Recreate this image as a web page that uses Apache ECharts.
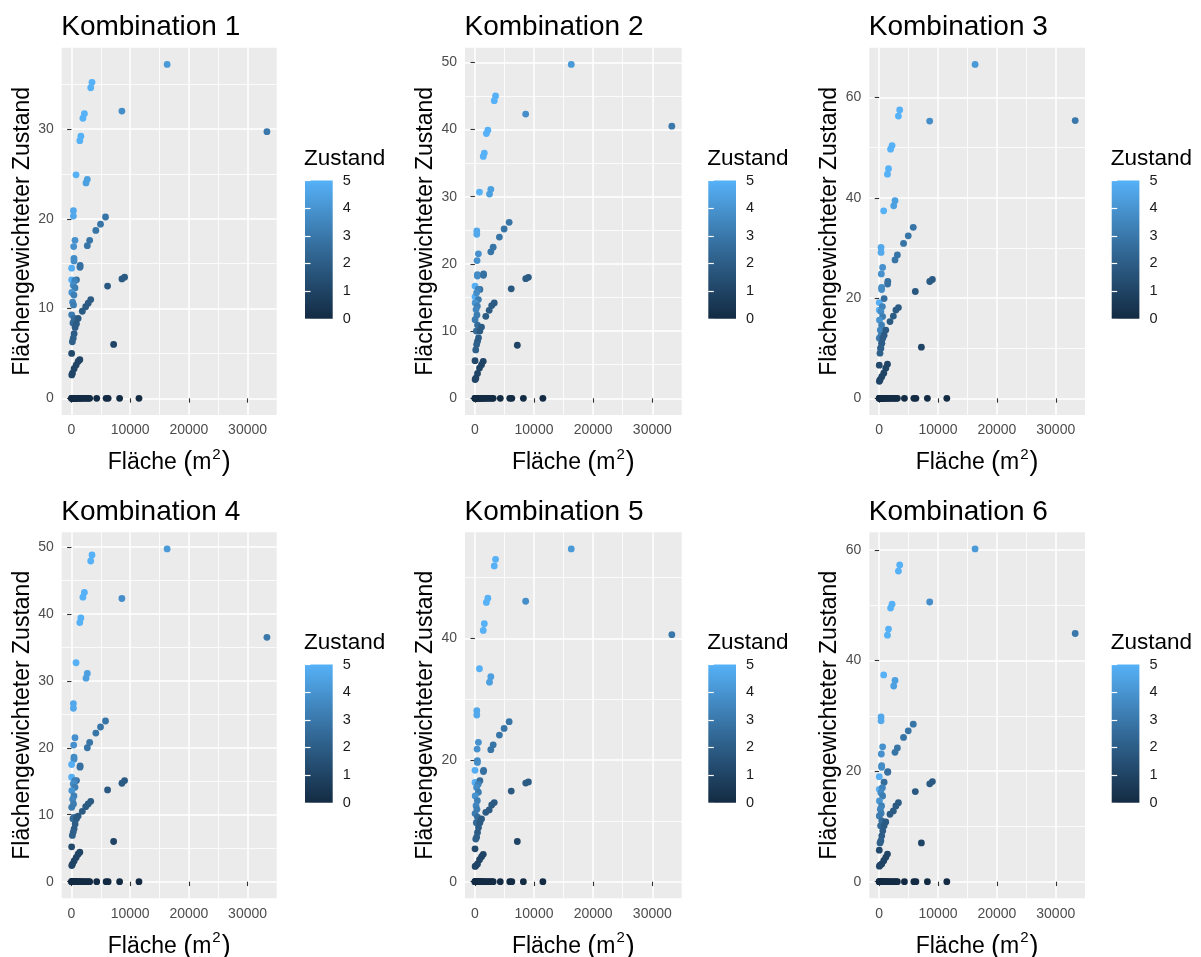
<!DOCTYPE html>
<html>
<head>
<meta charset="utf-8">
<script src="https://cdn.jsdelivr.net/npm/echarts@6/dist/echarts.min.js"></script>
<style>
  html, body { margin: 0; padding: 0; background: #ffffff; }
  #chart { width: 1201px; height: 957px; }
</style>
</head>
<body>
<div id="chart"></div>
<script>
// Area of each parcel (m²) and its condition score (0–5)
const flaeche = [
  0, 40, 90, 160, 240, 330, 420, 520, 640, 760, 900, 1050, 1250, 1450, 1700, 1950, 2250, 2550, 2850, 3100, 4300, 5900, 6250, 8200, 11500,
  3500, 3280, 16300, 8590, 2200, 1950, 1600, 1420, 780, 2700, 2480, 330, 330, 33300, 5800, 4950, 4150, 600, 380, 3100, 2700, 430, 430,
  1480, 1450, 30, 30, 850, 9050, 8600, 6150, 3280, 2850, 2420, 1850, 7180, 30, 1420, 1130, 790, 450, 170, 50,
  560, 300, 600, 60, 420, 200, 350, 40, 450, 250, 1130, 850, 620, 450, 300, 150
];
const zustand = [
  0, 0, 0, 0, 0, 0, 0, 0, 0, 0, 0, 0, 0, 0, 0, 0, 0, 0, 0, 0, 0, 0, 0, 0, 0,
  5.0, 5.0, 4.2, 3.8, 5.0, 5.0, 5.0, 5.0, 5.0, 4.4, 4.4, 4.7, 4.7, 3.0, 2.9, 2.9, 2.9, 3.9, 3.9, 2.9, 2.9, 3.7, 3.7,
  2.7, 2.7, 4.9, 4.9, 2.6, 1.9, 1.9, 1.8, 1.9, 1.9, 1.9, 1.9, 1.0, 1.2, 1.0, 1.0, 1.0, 1.0, 1.0, 1.0,
  3.4, 3.7, 3.2, 4.0, 3.3, 3.5, 3.2, 3.1, 2.6, 2.5, 1.9, 1.9, 2.0, 2.0, 2.1, 2.1
];

// Area-weighted condition for each of the six combinations
const kombination1 = [
  0, 0, 0, 0, 0, 0, 0, 0, 0, 0, 0, 0, 0, 0, 0, 0, 0, 0, 0, 0, 0, 0, 0, 0, 0,
  35.2, 34.6, 37.2, 32.0, 31.7, 31.2, 29.2, 28.7, 24.9, 24.4, 24.0, 20.9, 20.3, 29.7, 20.2, 19.4, 18.7, 17.6, 16.9, 17.6, 17.0, 15.6, 15.3,
  14.8, 14.6, 14.5, 13.2, 13.2, 13.5, 13.3, 12.5, 11.0, 10.6, 10.2, 9.7, 6.0, 5.0, 4.3, 4.1, 3.7, 3.3, 2.8, 2.6,
  13.1, 12.6, 12.3, 11.8, 11.5, 10.7, 10.4, 9.3, 8.9, 8.4, 8.9, 8.3, 7.9, 7.2, 6.7, 6.3
];
const kombination2 = [
  0, 0, 0, 0, 0, 0, 0, 0, 0, 0, 0, 0, 0, 0, 0, 0, 0, 0, 0, 0, 0, 0, 0, 0, 0,
  45.0, 44.3, 49.7, 42.3, 39.9, 39.4, 36.5, 36.0, 30.7, 31.1, 30.4, 24.9, 24.4, 40.5, 26.2, 25.2, 24.0, 21.5, 20.5, 22.5, 21.8, 18.4, 18.2,
  18.5, 18.3, 16.7, 15.1, 16.2, 18.0, 17.8, 16.3, 14.2, 13.8, 13.1, 12.2, 7.9, 5.6, 5.5, 5.0, 4.5, 3.7, 3.0, 2.8,
  16.2, 15.7, 14.7, 14.2, 13.7, 13.2, 12.4, 11.7, 10.9, 10.0, 10.6, 10.0, 9.0, 8.5, 8.0, 7.2
];
const kombination3 = [
  0, 0, 0, 0, 0, 0, 0, 0, 0, 0, 0, 0, 0, 0, 0, 0, 0, 0, 0, 0, 0, 0, 0, 0, 0,
  57.5, 56.3, 66.6, 55.3, 50.4, 49.7, 45.8, 44.7, 37.4, 39.4, 38.4, 30.1, 29.1, 55.4, 34.1, 32.4, 30.9, 26.1, 24.8, 28.6, 27.6, 22.1, 21.7,
  23.3, 22.8, 19.1, 17.6, 19.9, 23.7, 23.3, 21.3, 18.1, 17.6, 16.4, 15.3, 10.2, 6.6, 6.8, 6.0, 5.0, 4.3, 3.7, 3.4,
  18.3, 17.3, 16.3, 15.6, 14.6, 13.6, 12.6, 12.0, 11.0, 10.0, 13.6, 12.6, 12.0, 11.0, 10.0, 9.0
];
const kombination4 = [
  0, 0, 0, 0, 0, 0, 0, 0, 0, 0, 0, 0, 0, 0, 0, 0, 0, 0, 0, 0, 0, 0, 0, 0, 0,
  48.8, 47.9, 49.7, 42.3, 43.2, 42.5, 39.4, 38.7, 32.7, 31.1, 30.4, 26.6, 25.9, 36.5, 24.0, 23.1, 22.2, 21.5, 20.4, 20.8, 20.0, 18.6, 18.3,
  17.3, 17.1, 17.5, 15.6, 15.1, 15.1, 14.7, 13.7, 12.0, 11.6, 11.2, 10.5, 6.0, 5.2, 4.4, 4.1, 3.6, 3.1, 2.6, 2.4,
  15.1, 14.6, 14.1, 13.6, 12.8, 12.3, 11.6, 11.1, 9.6, 9.4, 9.8, 9.4, 8.6, 7.9, 7.4, 6.9
];
const kombination5 = [
  0, 0, 0, 0, 0, 0, 0, 0, 0, 0, 0, 0, 0, 0, 0, 0, 0, 0, 0, 0, 0, 0, 0, 0, 0,
  53.0, 51.9, 54.7, 46.1, 46.6, 45.9, 42.4, 41.3, 35.0, 33.7, 32.8, 28.1, 27.4, 40.6, 26.3, 25.2, 24.1, 22.9, 21.8, 22.5, 21.7, 19.9, 19.6,
  18.3, 18.1, 18.3, 16.3, 16.6, 16.4, 16.2, 14.9, 13.0, 12.6, 11.8, 11.4, 6.6, 5.4, 4.5, 4.1, 3.6, 2.9, 2.6, 2.5,
  16.0, 15.5, 14.7, 14.1, 13.3, 12.5, 11.9, 11.2, 10.6, 9.7, 10.3, 9.7, 8.9, 8.1, 7.3, 7.0
];
const kombination6 = [
  0, 0, 0, 0, 0, 0, 0, 0, 0, 0, 0, 0, 0, 0, 0, 0, 0, 0, 0, 0, 0, 0, 0, 0, 0,
  57.3, 56.2, 60.2, 50.6, 50.2, 49.5, 45.7, 44.6, 37.4, 36.4, 35.4, 29.8, 29.1, 44.9, 28.5, 27.3, 26.1, 24.4, 23.1, 24.2, 23.4, 21.0, 20.7,
  19.9, 19.8, 19.0, 16.7, 18.0, 18.1, 17.7, 16.3, 14.3, 13.7, 12.8, 12.2, 7.0, 5.7, 5.0, 4.4, 3.8, 3.2, 3.0, 2.8,
  17.0, 16.1, 15.5, 14.6, 13.7, 13.1, 12.4, 11.9, 11.0, 10.1, 10.8, 10.1, 9.2, 8.3, 7.4, 7.0
];
const kombinationen = [kombination1, kombination2, kombination3, kombination4, kombination5, kombination6];
const titel = ['Kombination 1', 'Kombination 2', 'Kombination 3', 'Kombination 4', 'Kombination 5', 'Kombination 6'];

// Axis breaks
const xTicks = [0, 10000, 20000, 30000];
const xMinor = [5000, 15000, 25000];
const yTicks = [
  [0, 10, 20, 30], [0, 10, 20, 30, 40, 50], [0, 20, 40, 60],
  [0, 10, 20, 30, 40, 50], [0, 20, 40], [0, 20, 40, 60]
];
const yMinor = [
  [5, 15, 25, 35], [5, 15, 25, 35, 45], [10, 30, 50],
  [5, 15, 25, 35, 45], [10, 30, 50], [10, 30, 50]
];
const zustandTicks = [0, 1, 2, 3, 4, 5];

// ---- layout & style ----
const FONT = "'Liberation Sans', Arial, sans-serif";
const palette = ['#132B43', '#234A6D', '#336A98', '#448DC7', '#56B1F7'];
const cols = [{ left: 61.7, width: 215 }, { left: 465, width: 216.7 }, { left: 869.3, width: 215.7 }];
const rows = [{ top: 47.7, height: 367.3 }, { top: 532.3, height: 366 }];
const legendLeft = [305, 708.3, 1111.7];
const legendTop = [180.5, 664.5];
const legendW = 27.7, legendH = 138.3;
const plain = v => String(v);

function expand(lo, hi) {
  const d = (hi - lo) * 0.05;
  return [lo - d, hi + d];
}

const grid = [], xAxis = [], yAxis = [], series = [], title = [];
const xr = expand(Math.min(...flaeche), Math.max(...flaeche));

kombinationen.forEach((werte, i) => {
  const c = cols[i % 3], r = rows[Math.floor(i / 3)];
  const yr = expand(0, Math.max(...werte));
  const g = grid.length;

  // plot panel
  grid.push({
    left: c.left, top: r.top, width: c.width, height: r.height,
    show: true, backgroundColor: '#EBEBEB', borderWidth: 0,
    outerBoundsMode: 'none'
  });
  // colour bar
  grid.push({
    left: legendLeft[i % 3], top: legendTop[Math.floor(i / 3)], width: legendW, height: legendH,
    show: true, borderWidth: 0, outerBoundsMode: 'none',
    backgroundColor: {
      type: 'linear', x: 0, y: 1, x2: 0, y2: 0,
      colorStops: palette.map((col, k) => ({ offset: k / (palette.length - 1), color: col }))
    }
  });

  const xi = xAxis.length, yi = yAxis.length;
  xAxis.push({
    type: 'value', gridIndex: g, min: xr[0], max: xr[1], position: 'bottom',
    axisLine: { show: false },
    axisTick: { show: true, length: 4.4, customValues: xTicks, lineStyle: { color: '#333333', width: 1.1 } },
    axisLabel: { customValues: xTicks, formatter: plain, color: '#4D4D4D', fontSize: 14, fontFamily: FONT, margin: 8.5 },
    splitLine: { show: true, lineStyle: { color: '#FFFFFF', width: 1.5 } },
    name: 'Fläche {p|(}m{sup|2}{p|)}', nameLocation: 'middle', nameGap: 32,
    nameTextStyle: {
      fontSize: 23, color: '#000000', fontFamily: FONT,
      rich: {
        p: { fontSize: 27, lineHeight: 32, color: '#000000', fontFamily: FONT },
        sup: { fontSize: 15, lineHeight: 15, color: '#000000', fontFamily: FONT, verticalAlign: 'top', padding: [0, 1, 0, 1] }
      }
    }
  });
  xAxis.push({
    type: 'value', gridIndex: g, min: xr[0], max: xr[1], position: 'top',
    axisLine: { show: false },
    axisTick: { show: false, customValues: xMinor },
    axisLabel: { show: false, customValues: xMinor },
    splitLine: { show: true, lineStyle: { color: '#FFFFFF', width: 0.8 } }
  });
  xAxis.push({ type: 'value', gridIndex: g + 1, min: 0, max: 1, show: false });

  yAxis.push({
    type: 'value', gridIndex: g, min: yr[0], max: yr[1], position: 'left',
    axisLine: { show: false },
    axisTick: { show: true, length: 4.4, customValues: yTicks[i], lineStyle: { color: '#333333', width: 1.1 } },
    axisLabel: { customValues: yTicks[i], formatter: plain, color: '#4D4D4D', fontSize: 14, fontFamily: FONT, margin: 8 },
    splitLine: { show: true, lineStyle: { color: '#FFFFFF', width: 1.5 } },
    name: 'Flächengewichteter Zustand', nameLocation: 'middle', nameRotate: 90, nameGap: 28,
    nameTextStyle: { fontSize: 23, color: '#000000', fontFamily: FONT }
  });
  yAxis.push({
    type: 'value', gridIndex: g, min: yr[0], max: yr[1], position: 'right',
    axisLine: { show: false },
    axisTick: { show: false, customValues: yMinor[i] },
    axisLabel: { show: false, customValues: yMinor[i] },
    splitLine: { show: true, lineStyle: { color: '#FFFFFF', width: 0.8 } }
  });
  yAxis.push({
    type: 'value', gridIndex: g + 1, min: 0, max: 5, position: 'right',
    axisLine: { show: false },
    axisTick: { show: true, inside: true, length: 5.5, customValues: zustandTicks, lineStyle: { color: '#FFFFFF', width: 1.2 } },
    axisLabel: { customValues: zustandTicks, formatter: plain, color: '#1A1A1A', fontSize: 14.5, fontFamily: FONT, margin: 10 },
    splitLine: { show: false }
  });
  yAxis.push({
    type: 'value', gridIndex: g + 1, min: 0, max: 5, position: 'left',
    axisLine: { show: false },
    axisTick: { show: true, inside: true, length: 5.5, customValues: zustandTicks, lineStyle: { color: '#FFFFFF', width: 1.2 } },
    axisLabel: { show: false },
    splitLine: { show: false }
  });

  series.push({
    type: 'scatter', xAxisIndex: xi, yAxisIndex: yi,
    symbol: 'circle', symbolSize: 6.8, clip: false,
    itemStyle: { opacity: 1 },
    data: flaeche.map((x, k) => [x, werte[k], zustand[k]])
  });

  title.push({
    text: titel[i], left: c.left - 0.5, top: r.top - 34, padding: 0,
    textStyle: { fontSize: 28, fontWeight: 'normal', color: '#000000', fontFamily: FONT }
  });
  title.push({
    text: 'Zustand', left: legendLeft[i % 3] - 1, top: legendTop[Math.floor(i / 3)] - 33, padding: 0,
    textStyle: { fontSize: 22.5, fontWeight: 'normal', color: '#000000', fontFamily: FONT }
  });
});

const chart = echarts.init(document.getElementById('chart'), null, { renderer: 'canvas', width: 1201, height: 957 });
chart.setOption({
  backgroundColor: '#FFFFFF',
  animation: false,
  title, grid, xAxis, yAxis, series,
  visualMap: {
    type: 'continuous', show: false, min: 0, max: 5, dimension: 2,
    seriesIndex: series.map((s, k) => k),
    inRange: { color: palette }
  }
});
</script>
</body>
</html>
